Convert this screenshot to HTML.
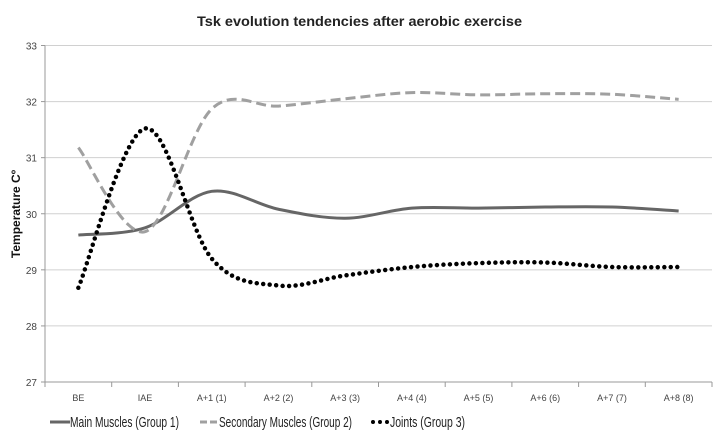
<!DOCTYPE html>
<html><head><meta charset="utf-8"><style>
body{margin:0;background:#fff;}
svg{display:block;font-family:"Liberation Sans",sans-serif;}
</style></head><body>
<svg id="chart" width="723" height="447">
<text x="197" y="26" font-size="14" font-weight="bold" fill="#222" textLength="325" lengthAdjust="spacingAndGlyphs">Tsk evolution tendencies after aerobic exercise</text>
<text transform="translate(20,214) rotate(-90)" text-anchor="middle" font-size="12" font-weight="bold" fill="#111">Temperature Cº</text>
<g id="grid"></g><g id="series"></g>
<g>
<g><line x1="50" y1="422" x2="70" y2="422" stroke="#666" stroke-width="3"/><text x="70" y="427" font-size="15" fill="#222" textLength="109" lengthAdjust="spacingAndGlyphs">Main Muscles (Group 1)</text></g>
<g><line x1="200" y1="422" x2="218" y2="422" stroke="#a0a0a0" stroke-width="3" stroke-dasharray="7 3"/><text x="219" y="427" font-size="15" fill="#222" textLength="133" lengthAdjust="spacingAndGlyphs">Secondary Muscles (Group 2)</text></g>
<g><line x1="373" y1="422" x2="388" y2="422" stroke="#000" stroke-width="4" stroke-linecap="round" stroke-dasharray="0 7"/><text x="390" y="427" font-size="15" fill="#222" textLength="75" lengthAdjust="spacingAndGlyphs">Joints (Group 3)</text></g>
</g>
</svg>
<script>
const categories=["BE","IAE","A+1 (1)","A+2 (2)","A+3 (3)","A+4 (4)","A+5 (5)","A+6 (6)","A+7 (7)","A+8 (8)"];
const mainMuscles=[29.62,29.75,30.4,30.08,29.92,30.1,30.1,30.12,30.12,30.05];
const secondaryMuscles=[31.18,29.68,31.87,31.92,32.05,32.16,32.12,32.14,32.13,32.04];
const joints=[28.68,31.52,29.2,28.72,28.9,29.05,29.12,29.13,29.05,29.05];
const yTicks=[27,28,29,30,31,32,33];
const NS="http://www.w3.org/2000/svg";
const x0=45,x1=712,yMin=27,yMax=33,yTop=45.5,yBot=382;
const step=(x1-x0)/categories.length;
const xs=i=>x0+step*(i+0.5);
const ys=v=>yBot-(v-yMin)/(yMax-yMin)*(yBot-yTop);
const grid=document.getElementById('grid');
function mk(tag,attrs,parent){const e=document.createElementNS(NS,tag);for(const k in attrs)e.setAttribute(k,attrs[k]);parent.appendChild(e);return e;}
yTicks.forEach(t=>{
  const g=mk('line',{x1:x0,x2:x1,y1:ys(t),y2:ys(t),stroke:t===yMin?'#999':'#d0d0d0','stroke-width':1},grid);
  
  
  const tk=mk('line',{x1:x0-4,x2:x0,y1:ys(t),y2:ys(t),stroke:'#999'},grid);
  
  
  const l=mk('text',{x:x0-8,y:ys(t)+4,'text-anchor':'end','font-size':10,fill:'#444'},grid);
  l.textContent=t;
  
  
});
const ax=mk('line',{x1:x0,x2:x0,y1:yTop,y2:yBot,stroke:'#999'},grid);


for(let i=0;i<=categories.length;i++){
  const tk=mk('line',{x1:x0+step*i,x2:x0+step*i,y1:yBot,y2:yBot+5,stroke:'#999'},grid);
  
  
}
categories.forEach((c,i)=>{
  const l=mk('text',{x:xs(i),y:yBot+19,'text-anchor':'middle','font-size':9,fill:'#444'},grid);
  l.textContent=c;
  
  
});
function smooth(vals){
  const p=vals.map((v,i)=>[xs(i),ys(v)]);
  let d='M'+p[0][0]+','+p[0][1];
  const t=0.5;
  for(let i=0;i<p.length-1;i++){
    const a=p[Math.max(i-1,0)],b=p[i],c=p[i+1],e=p[Math.min(i+2,p.length-1)];
    const c1=[b[0]+(c[0]-a[0])*t/3,b[1]+(c[1]-a[1])*t/3];
    const c2=[c[0]-(e[0]-b[0])*t/3,c[1]-(e[1]-b[1])*t/3];
    d+=' C'+c1+' '+c2+' '+c;
  }
  return d;
}
const sg=document.getElementById('series');
const s1=mk('path',{d:smooth(mainMuscles),fill:'none',stroke:'#666','stroke-width':3},sg);


const s2=mk('path',{d:smooth(secondaryMuscles),fill:'none',stroke:'#a0a0a0','stroke-width':3,'stroke-dasharray':'10 5'},sg);


const s3=mk('path',{d:smooth(joints),fill:'none',stroke:'#000','stroke-width':4.5,'stroke-linecap':'round','stroke-dasharray':'0 6.5'},sg);


</script>
</body></html>
